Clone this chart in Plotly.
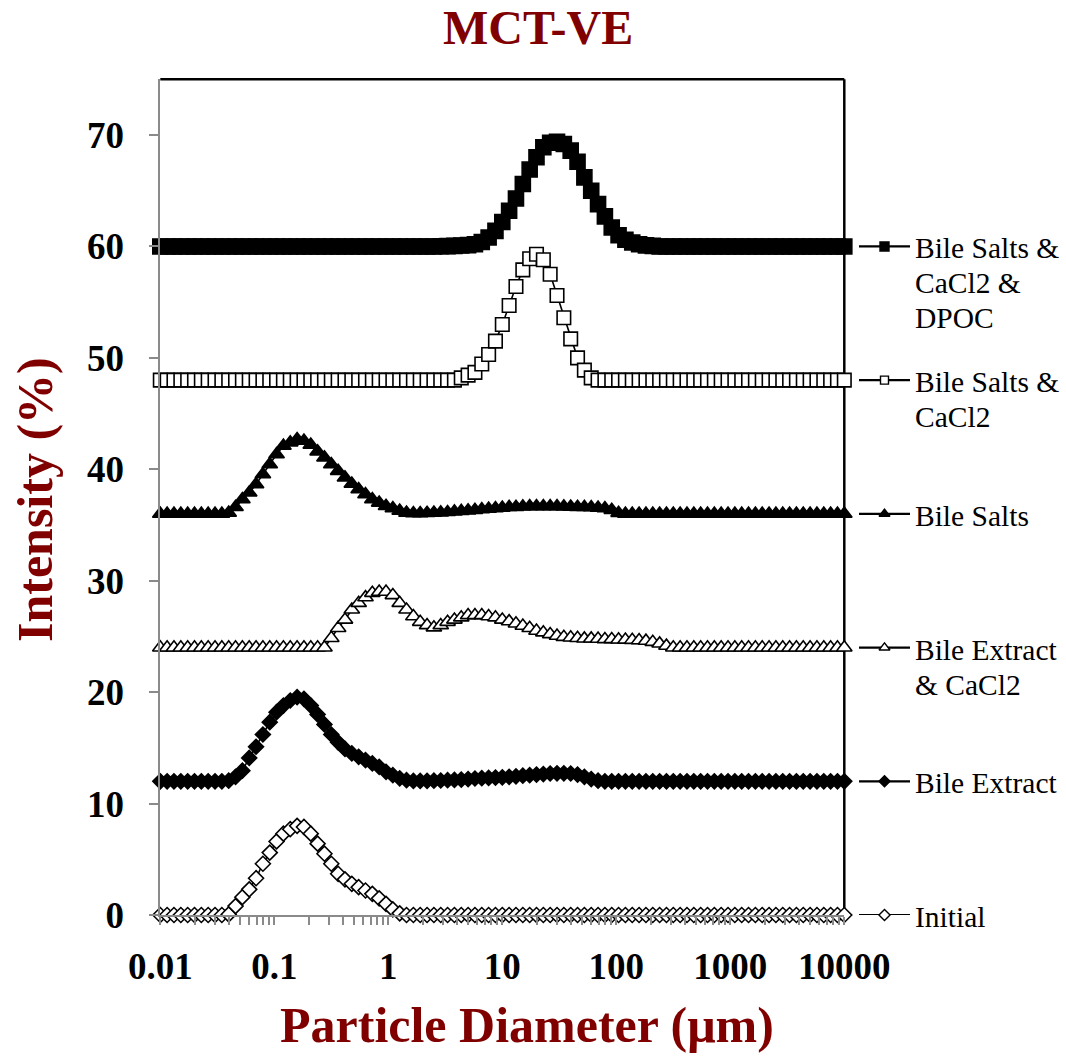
import plotly.graph_objects as go

# ---------------- data ----------------
diameter_um = [
    0.01, 0.01148, 0.01318, 0.01514, 0.01738, 0.01995, 0.02291, 0.0263, 0.0302, 0.03467,
    0.03981, 0.04571, 0.05248, 0.06026, 0.06918, 0.07943, 0.0912, 0.1047, 0.1202, 0.138,
    0.1585, 0.182, 0.2089, 0.2399, 0.2754, 0.3162, 0.3631, 0.4169, 0.4786, 0.5495,
    0.631, 0.7244, 0.8318, 0.955, 1.096, 1.259, 1.445, 1.66, 1.905, 2.188,
    2.512, 2.884, 3.311, 3.802, 4.365, 5.012, 5.754, 6.607, 7.586, 8.71,
    10, 11.48, 13.18, 15.14, 17.38, 19.95, 22.91, 26.3, 30.2, 34.67,
    39.81, 45.71, 52.48, 60.26, 69.18, 79.43, 91.2, 104.7, 120.2, 138,
    158.5, 182, 208.9, 239.9, 275.4, 316.2, 363.1, 416.9, 478.6, 549.5,
    631, 724.4, 831.8, 955, 1096, 1259, 1445, 1660, 1905, 2188,
    2512, 2884, 3311, 3802, 4365, 5012, 5754, 6607, 7586, 8710,
    10000,
]

initial = [
    0, 0, 0, 0, 0, 0, 0, 0, 0, 0,
    0.05, 0.8, 1.6, 2.3, 3.3, 4.6, 5.6, 6.6, 7.3, 7.7,
    8.0, 7.9, 7.3, 6.4, 5.5, 4.6, 3.7, 3.2, 2.8, 2.5,
    2.2, 1.9, 1.5, 1.0, 0.5, 0.15, 0, 0, 0, 0,
    0, 0, 0, 0, 0, 0, 0, 0, 0, 0,
    0, 0, 0, 0, 0, 0, 0, 0, 0, 0,
    0, 0, 0, 0, 0, 0, 0, 0, 0, 0,
    0, 0, 0, 0, 0, 0, 0, 0, 0, 0,
    0, 0, 0, 0, 0, 0, 0, 0, 0, 0,
    0, 0, 0, 0, 0, 0, 0, 0, 0, 0,
    0,
]

bile_extract = [
    0, 0, 0, 0, 0, 0, 0, 0, 0, 0,
    0.05, 0.4, 0.95, 2.1, 3.1, 4.2, 5.3, 6.2, 6.8, 7.25,
    7.55, 7.4, 6.8, 6.0, 5.1, 4.2, 3.5, 2.9, 2.5, 2.2,
    1.9, 1.6, 1.3, 0.85, 0.55, 0.27, 0.1, 0.03, 0.03, 0.04,
    0.05, 0.07, 0.1, 0.12, 0.15, 0.2, 0.25, 0.28, 0.3, 0.33,
    0.36, 0.4, 0.45, 0.5, 0.55, 0.6, 0.65, 0.7, 0.72, 0.72,
    0.7, 0.6, 0.4, 0.2, 0.05, 0, 0, 0, 0, 0,
    0, 0, 0, 0, 0, 0, 0, 0, 0, 0,
    0, 0, 0, 0, 0, 0, 0, 0, 0, 0,
    0, 0, 0, 0, 0, 0, 0, 0, 0, 0,
    0,
]

bile_extract_cacl2 = [
    0, 0, 0, 0, 0, 0, 0, 0, 0, 0,
    0, 0, 0, 0, 0, 0, 0, 0, 0, 0,
    0, 0, 0, 0, 0, 0.85, 1.75, 2.5, 3.4, 4.0,
    4.5, 4.9, 5.0, 5.0, 4.7, 4.0, 3.4, 2.8, 2.3, 2.0,
    1.8, 2.0, 2.3, 2.5, 2.7, 2.9, 2.9, 2.9, 2.8, 2.7,
    2.5, 2.35, 2.15, 1.95, 1.75, 1.5, 1.35, 1.2, 1.05, 0.95,
    0.9, 0.85, 0.8, 0.8, 0.78, 0.75, 0.75, 0.72, 0.7, 0.68,
    0.65, 0.6, 0.5, 0.35, 0.15, 0, 0, 0, 0, 0,
    0, 0, 0, 0, 0, 0, 0, 0, 0, 0,
    0, 0, 0, 0, 0, 0, 0, 0, 0, 0,
    0,
]

bile_salts = [
    0, 0, 0, 0, 0, 0, 0, 0, 0, 0,
    0.1, 0.6, 1.3, 1.9, 2.65, 3.55, 4.45, 5.35, 6.1, 6.4,
    6.7, 6.55, 6.2, 5.6, 5.05, 4.45, 3.85, 3.25, 2.7, 2.2,
    1.75, 1.3, 1.0, 0.7, 0.5, 0.27, 0.1, 0.05, 0.05, 0.08,
    0.1, 0.12, 0.15, 0.2, 0.25, 0.3, 0.35, 0.4, 0.45, 0.5,
    0.55, 0.6, 0.62, 0.65, 0.67, 0.68, 0.68, 0.68, 0.67, 0.66,
    0.64, 0.62, 0.6, 0.58, 0.55, 0.5, 0.35, 0.08, 0, 0,
    0, 0, 0, 0, 0, 0, 0, 0, 0, 0,
    0, 0, 0, 0, 0, 0, 0, 0, 0, 0,
    0, 0, 0, 0, 0, 0, 0, 0, 0, 0,
    0,
]

bile_salts_cacl2 = [
    0, 0, 0, 0, 0, 0, 0, 0, 0, 0,
    0, 0, 0, 0, 0, 0, 0, 0, 0, 0,
    0, 0, 0, 0, 0, 0, 0, 0, 0, 0,
    0, 0, 0, 0, 0, 0, 0, 0, 0, 0,
    0, 0, 0, 0, 0.2, 0.45, 0.7, 1.45, 2.3, 3.5,
    5.0, 6.7, 8.4, 9.9, 10.9, 11.3, 10.8, 9.5, 7.6, 5.6,
    3.7, 2.0, 0.9, 0.2, 0, 0, 0, 0, 0, 0,
    0, 0, 0, 0, 0, 0, 0, 0, 0, 0,
    0, 0, 0, 0, 0, 0, 0, 0, 0, 0,
    0, 0, 0, 0, 0, 0, 0, 0, 0, 0,
    0,
]

bile_salts_cacl2_dpoc = [
    0, 0, 0, 0, 0, 0, 0, 0, 0, 0,
    0, 0, 0, 0, 0, 0, 0, 0, 0, 0,
    0, 0, 0, 0, 0, 0, 0, 0, 0, 0,
    0, 0, 0, 0, 0, 0, 0, 0, 0, 0,
    0, 0.02, 0.03, 0.05, 0.08, 0.12, 0.2, 0.4, 0.8, 1.4,
    2.2, 3.2, 4.3, 5.6, 6.9, 8.0, 8.9, 9.3, 9.4, 9.2,
    8.6, 7.6, 6.2, 5.0, 3.8, 2.7, 1.7, 1.0, 0.6, 0.35,
    0.2, 0.1, 0.05, 0, 0, 0, 0, 0, 0, 0,
    0, 0, 0, 0, 0, 0, 0, 0, 0, 0,
    0, 0, 0, 0, 0, 0, 0, 0, 0, 0,
    0,
]

series_names = ["Initial", "Bile Extract", "Bile Extract & CaCl2", "Bile Salts",
                "Bile Salts & CaCl2 & DPOC", "Bile Salts & CaCl2"]
series_values = [initial, bile_extract, bile_extract_cacl2, bile_salts,
                 bile_salts_cacl2_dpoc, bile_salts_cacl2]
series_offsets = [0, 12, 24, 36, 60, 48]
legend_lines = [["Initial"], ["Bile Extract"], ["Bile Extract", "& CaCl2"], ["Bile Salts"],
                ["Bile Salts &", "CaCl2 &", "DPOC"], ["Bile Salts &", "CaCl2"]]

x_tickvals = [0.01, 0.1, 1, 10, 100, 1000, 10000]
x_ticktext = ["0.01", "0.1", "1", "10", "100", "1000", "10000"]
y_tickvals = [0, 10, 20, 30, 40, 50, 60, 70]

# ---------------- styling ----------------
W, H = 1066, 1057
SERIF = "Liberation Serif, Times New Roman, serif"
DARKRED = "#800000"
AXISGRAY = "#8a8a8a"

styles = [
    dict(symbol="diamond", size=11.5, color="white", lsize=8.5),
    dict(symbol="diamond", size=11.5, color="black", lsize=8.5),
    dict(symbol="triangle-up", size=13.5, color="white", lsize=9.5),
    dict(symbol="triangle-up", size=13.5, color="black", lsize=9.5),
    dict(symbol="square", size=15, color="black", lsize=9),
    dict(symbol="square", size=13.5, color="white", lsize=8),
]

px0, px1 = 160.3, 844.3
py_bottom, py_top = 915.0, 79.3

fig = go.Figure()

for name, vals, off, st in zip(series_names, series_values, series_offsets, styles):
    yv = [v + off for v in vals]
    fig.add_trace(go.Scatter(
        x=diameter_um, y=yv, mode="lines+markers", name=name,
        line=dict(color="black", width=1.6),
        marker=dict(symbol=st["symbol"], size=st["size"], color=st["color"],
                    line=dict(color="black", width=1.6)),
        cliponaxis=False, xaxis="x", yaxis="y",
    ))

# legend-like keys at the right of each series
for name, off, st, lines in zip(series_names, series_offsets, styles, legend_lines):
    fig.add_trace(go.Scatter(
        x=[0, 1], y=[off, off], mode="lines", line=dict(color="black", width=2.2),
        xaxis="x2", yaxis="y", cliponaxis=False, hoverinfo="skip", showlegend=False,
    ))
    fig.add_trace(go.Scatter(
        x=[0.5], y=[off], mode="markers",
        marker=dict(symbol=st["symbol"], size=st["lsize"], color=st["color"],
                    line=dict(color="black", width=1.4)),
        xaxis="x2", yaxis="y", cliponaxis=False, hoverinfo="skip", showlegend=False,
    ))
    for k, txt in enumerate(lines):
        fig.add_annotation(
            x=913 / W, xref="paper", xanchor="left",
            y=off, yref="y", yanchor="middle", yshift=-2 - 35 * k,
            text=txt, showarrow=False,
            font=dict(family=SERIF, size=29.5, color="black"),
        )

tickfont = dict(family=SERIF, size=37, color="black", weight="bold")

fig.update_layout(
    template="none",
    width=W, height=H,
    margin=dict(l=0, r=0, t=0, b=0, pad=0, autoexpand=False),
    paper_bgcolor="white", plot_bgcolor="white",
    showlegend=False,
    xaxis=dict(
        type="log", range=[-2, 4], domain=[px0 / W, px1 / W], anchor="y",
        automargin=False,
        tickmode="array", tickvals=x_tickvals, ticktext=x_ticktext,
        ticks="outside", ticklen=8, tickwidth=1.5, tickcolor=AXISGRAY,
        showline=True, linecolor=AXISGRAY, linewidth=2,
        showgrid=False, zeroline=False, tickfont=tickfont, ticklabelstandoff=10,
        minor=dict(ticks="outside", ticklen=8, tickwidth=1.5, tickcolor=AXISGRAY,
                   dtick="D1", showgrid=False),
    ),
    yaxis=dict(
        range=[0, 75], domain=[1 - py_bottom / H, 1 - py_top / H], anchor="x",
        automargin=False,
        tickmode="array", tickvals=y_tickvals,
        ticks="outside", ticklen=9, tickwidth=1.5, tickcolor=AXISGRAY,
        showline=True, linecolor=AXISGRAY, linewidth=2,
        showgrid=False, zeroline=False, tickfont=tickfont, ticklabelstandoff=18,
    ),
    xaxis2=dict(
        domain=[859 / W, 910 / W], range=[0, 1], anchor="y", visible=False,
        automargin=False, showgrid=False, zeroline=False,
    ),
)

# top and right frame (black)
fig.add_shape(type="line", xref="x domain", yref="y domain", x0=0, x1=1, y0=1, y1=1,
              line=dict(color="black", width=2.5), layer="below")
fig.add_shape(type="line", xref="x domain", yref="y domain", x0=1, x1=1, y0=0, y1=1,
              line=dict(color="black", width=2.5), layer="below")

# titles
fig.add_annotation(x=538 / W, y=1 - 27 / H, xref="paper", yref="paper",
                   text="MCT-VE", showarrow=False, xanchor="center", yanchor="middle",
                   font=dict(family=SERIF, size=48, color=DARKRED, weight="bold"))
fig.add_annotation(x=527 / W, y=1 - 1025 / H, xref="paper", yref="paper",
                   text="Particle Diameter (μm)", showarrow=False,
                   xanchor="center", yanchor="middle",
                   font=dict(family=SERIF, size=50, color=DARKRED, weight="bold"))
fig.add_annotation(x=35 / W, y=1 - 500 / H, xref="paper", yref="paper",
                   text="Intensity (%)", showarrow=False, textangle=-90,
                   xanchor="center", yanchor="middle",
                   font=dict(family=SERIF, size=50, color=DARKRED, weight="bold"))

fig.write_html("out.html")
